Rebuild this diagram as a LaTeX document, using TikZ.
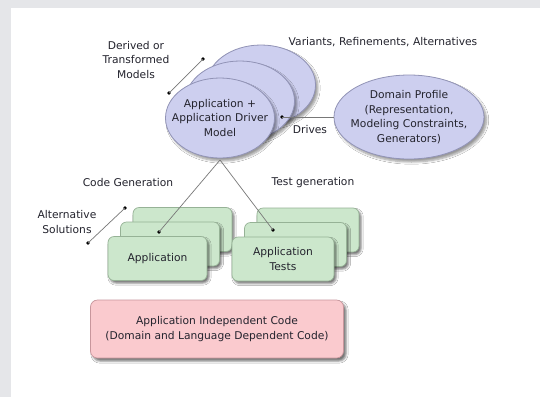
\documentclass[tikz,border=0pt]{standalone}
\usepackage{fontspec}
\setmainfont{DejaVu Sans}
\usetikzlibrary{shapes.geometric,shadows.blur}

\definecolor{pagegrey}{RGB}{229,230,233}
\definecolor{modelfill}{RGB}{205,207,239}
\definecolor{modeldraw}{RGB}{145,147,182}
\definecolor{appfill}{RGB}{204,231,204}
\definecolor{appdraw}{RGB}{150,178,150}
\definecolor{basefill}{RGB}{250,202,206}
\definecolor{basedraw}{RGB}{200,150,156}
\definecolor{inkgrey}{RGB}{35,35,45}
\definecolor{wiregrey}{RGB}{120,120,120}

\tikzset{
  txt/.style={align=center, text=inkgrey, inner sep=0pt,
    font=\fontsize{10.7}{14.5}\selectfont},
  modelell/.style={ellipse, draw=modeldraw, line width=0.8pt, fill=modelfill,
    minimum width=109pt, minimum height=80pt, inner sep=0pt,
    blur shadow={shadow xshift=2.5pt, shadow yshift=-3pt, shadow blur steps=6, shadow opacity=40}},
  appbox/.style={rounded corners=6pt, draw=appdraw, line width=0.7pt, fill=appfill,
    minimum height=44pt, inner sep=0pt,
    blur shadow={shadow xshift=2pt, shadow yshift=-2.5pt, shadow blur steps=3, shadow opacity=55}},
  basebox/.style={rounded corners=7pt, draw=basedraw, line width=0.7pt, fill=basefill,
    minimum width=253pt, minimum height=58pt, inner sep=0pt,
    blur shadow={shadow xshift=2.5pt, shadow yshift=-3pt, shadow blur steps=3, shadow opacity=55}},
  wire/.style={draw=wiregrey, line width=0.7pt},
  pin/.style={circle, fill=black, inner sep=0pt, minimum size=3.6pt},
}

\begin{document}
\begin{tikzpicture}[x=1pt, y=-1pt]
  % page frame
  \fill[pagegrey] (0,0) rectangle (540,397);
  \fill[white] (11,8) rectangle (540,397);
  \useasboundingbox (0,0) rectangle (540,397);

  % stacked models
  \node[modelell] (m2) at (261,85) {};
  \node[modelell] (m1) at (240,101) {};
  \node[modelell] (m0) at (220,118) {};
  \node[txt] (m0t) at (m0.center) {Application +\\Application Driver\\Model};

  % domain profile
  \node[modelell, minimum width=150pt, minimum height=84pt] (dp) at (409,117) {};
  \node[txt] (dpt) at (dp.center) {Domain Profile\\(Representation,\\Modeling Constraints,\\Generators)};

  % generated applications
  \node[appbox, minimum width=99pt] (a2) at (182.5,229.5) {};
  \node[appbox, minimum width=99pt] (a1) at (170,244) {};
  \node[appbox, minimum width=99pt] (a0) at (157.5,258.5) {};
  \node[txt] (a0t) at (a0.center) {Application};

  % generated tests
  \node[appbox, minimum width=102pt] (t2) at (308,230) {};
  \node[appbox, minimum width=102pt] (t1) at (295.5,244.5) {};
  \node[appbox, minimum width=102pt] (t0) at (283,259) {};
  \node[txt] (t0t) at (t0.center) {Application\\Tests};

  % shared base code
  \node[basebox] (base) at (217,329) {};
  \node[txt] (baset) at (base.center) {Application Independent Code\\(Domain and Language Dependent Code)};

  % labels
  \node[txt] (lderived) at (136,60) {Derived or\\Transformed\\Models};
  \node[txt] (lvariants) at (383,42) {Variants, Refinements, Alternatives};
  \node[txt] (ldrives) at (310,130) {Drives};
  \node[txt] (lcode) at (128,183) {Code Generation};
  \node[txt] (ltest) at (313,183) {Test generation};
  \node[txt] (lalt) at (67,222) {Alternative\\Solutions};

  % connector end points
  \coordinate (apex) at (220,160);
  \node[pin] (pd1) at (203,59) {};
  \node[pin] (pd2) at (169,93) {};
  \node[pin] (pdr) at (282,117) {};
  \node[pin] (pa) at (159,232) {};
  \node[pin] (pt) at (273,230) {};
  \node[pin] (ps1) at (125,208) {};
  \node[pin] (ps2) at (88,243) {};

  % connectors
  \draw[wire] (pd1.center) -- (pd2.center);
  \draw[wire] (pdr.center) -- (dp.west |- pdr.center);
  \draw[wire] (apex) -- (pa.center);
  \draw[wire] (apex) -- (pt.center);
  \draw[wire] (ps1.center) -- (ps2.center);
\end{tikzpicture}
\end{document}
